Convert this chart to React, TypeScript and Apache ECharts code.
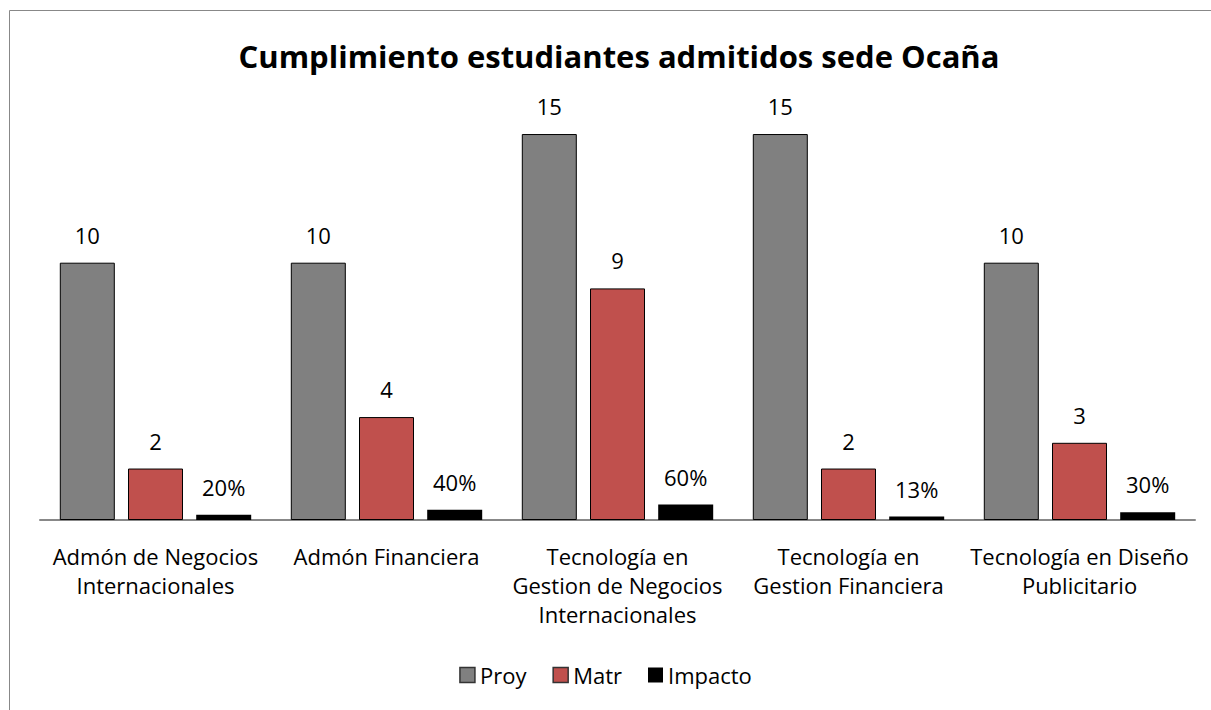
import React, { useEffect, useRef } from "react";
import * as echarts from "echarts";

const categories = [
  "Admón de Negocios\nInternacionales",
  "Admón Financiera",
  "Tecnología en\nGestion de Negocios\nInternacionales",
  "Tecnología en\nGestion Financiera",
  "Tecnología en Diseño\nPublicitario",
];
const proy = [10, 10, 15, 15, 10];
const matr = [2, 4, 9, 2, 3];
const impacto = [0.2, 0.4, 0.6, 0.1333, 0.3];

const FONT = "'Open Sans', 'Noto Sans', sans-serif";

export default function App() {
  const ref = useRef<HTMLDivElement>(null);
  useEffect(() => {
    document.body.style.margin = "0";
    const chart = echarts.init(ref.current!, null, { renderer: "svg" });
    const label = {
      show: true,
      position: "top" as const,
      distance: 17,
      color: "#000",
      fontSize: 22,
      fontFamily: FONT,
    };
    chart.setOption({
      animation: false,
      backgroundColor: "#fff",
      title: {
        text: "Cumplimiento estudiantes admitidos sede Ocaña",
        left: 614,
        textAlign: "center",
        top: 35,
        textStyle: { fontSize: 31, fontWeight: "bold", color: "#000", fontFamily: FONT },
      },
      legend: {
        top: 659,
        left: "center",
        icon: "rect",
        itemWidth: 15,
        itemHeight: 15,
        itemGap: 26,
        textStyle: { fontSize: 22, color: "#000", fontFamily: FONT },
        data: [
          { name: "Proy", itemStyle: { color: "#808080", borderColor: "#333", borderWidth: 1.5 } },
          { name: "Matr", itemStyle: { color: "#C0504D", borderColor: "#333", borderWidth: 1.5 } },
          { name: "Impacto", itemStyle: { color: "#000", borderColor: "#000", borderWidth: 0 } },
        ],
      },
      grid: { left: 40, right: 16, top: 108.3, bottom: 190 },
      xAxis: {
        type: "category",
        data: categories,
        axisLine: { lineStyle: { color: "#888", width: 2 } },
        axisTick: { show: false },
        axisLabel: {
          interval: 0,
          margin: 21,
          lineHeight: 29,
          fontSize: 22,
          color: "#000",
          fontFamily: FONT,
        },
      },
      yAxis: { type: "value", min: 0, max: 16, show: false, splitLine: { show: false } },
      graphic: [
        { type: "line", shape: { x1: 9.5, y1: 10.5, x2: 1211, y2: 10.5 }, style: { stroke: "#888", lineWidth: 1 } },
        { type: "line", shape: { x1: 9.5, y1: 10.5, x2: 9.5, y2: 710 }, style: { stroke: "#888", lineWidth: 1 } },
      ],
      series: [
        {
          name: "Proy",
          type: "bar",
          data: proy,
          barWidth: 55,
          barGap: "24%",
          itemStyle: { color: "#808080", borderColor: "#000", borderWidth: 1 },
          label,
        },
        {
          name: "Matr",
          type: "bar",
          data: matr,
          barWidth: 55,
          barGap: "24%",
          itemStyle: { color: "#C0504D", borderColor: "#000", borderWidth: 1 },
          label,
        },
        {
          name: "Impacto",
          type: "bar",
          data: impacto,
          barWidth: 55,
          barGap: "24%",
          itemStyle: { color: "#000", borderColor: "#000", borderWidth: 0 },
          label: { ...label, formatter: (p: any) => Math.round(p.value * 100) + "%" },
        },
      ],
    });
    return () => chart.dispose();
  }, []);
  return <div ref={ref} style={{ width: 1211, height: 710 }} />;
}
